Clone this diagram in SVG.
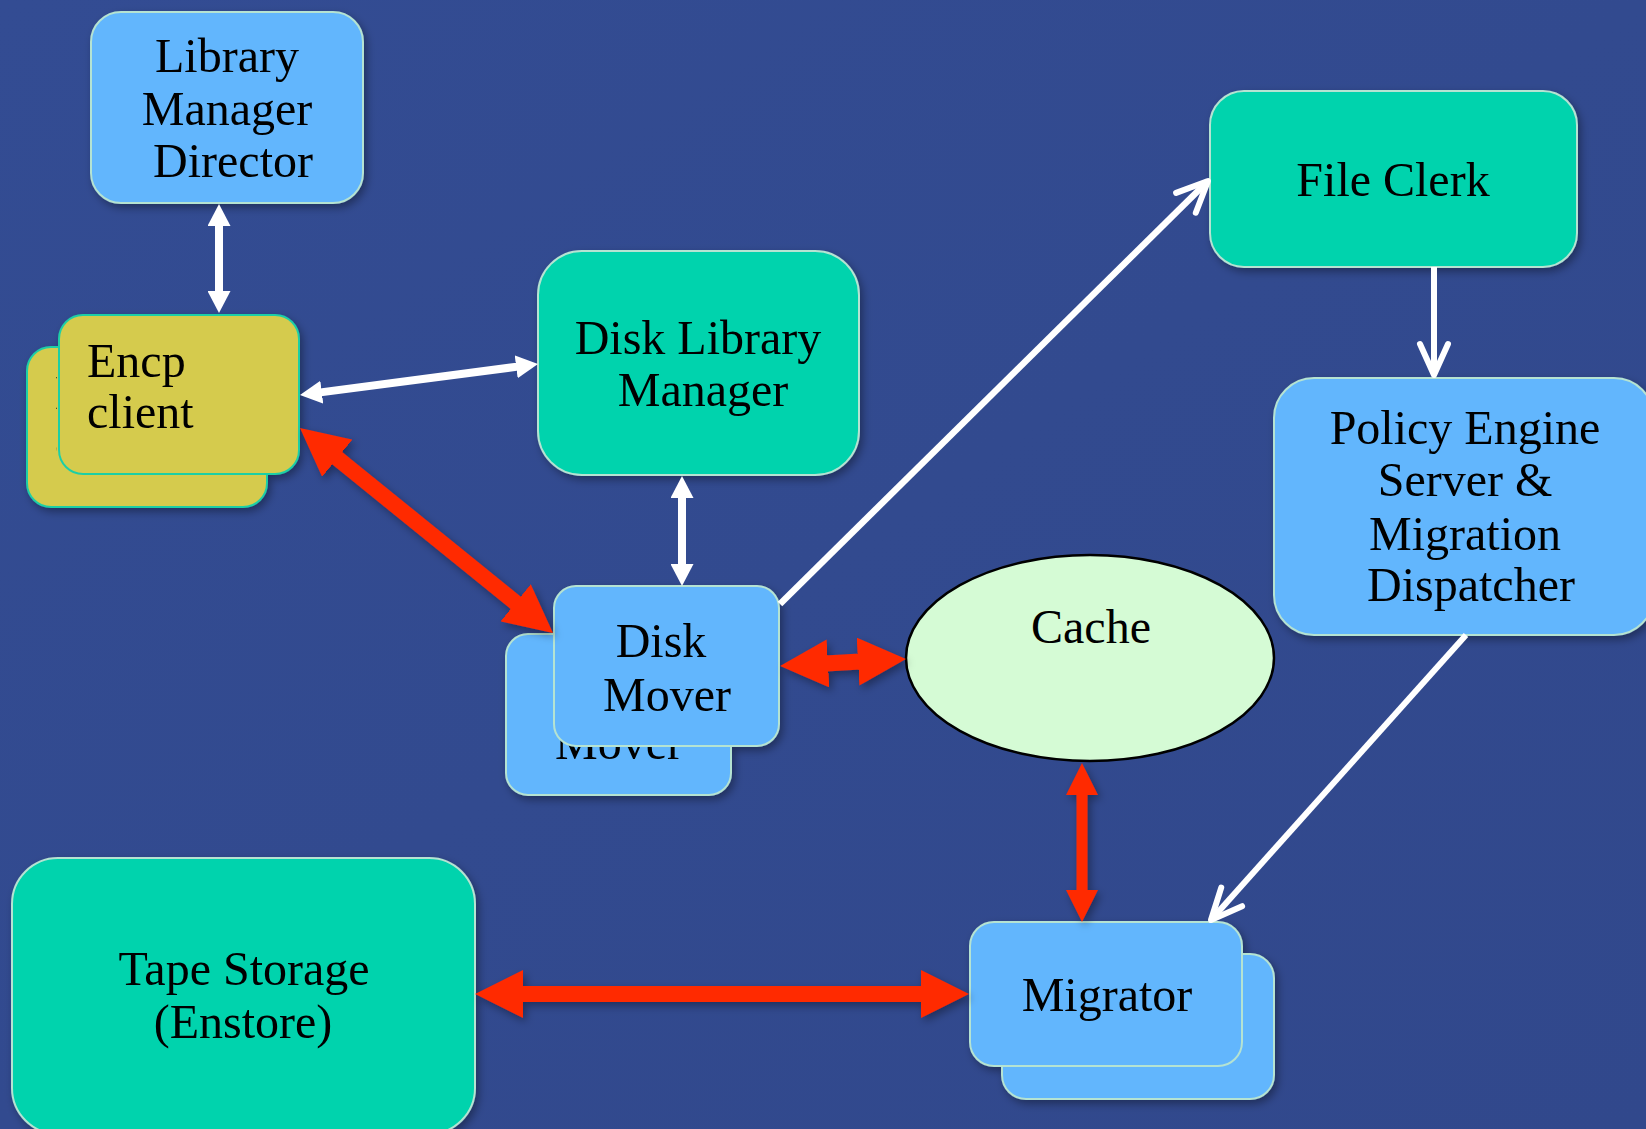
<svg xmlns="http://www.w3.org/2000/svg" width="1646" height="1129" viewBox="0 0 1646 1129">
  <style>
    .t { font-family: "Liberation Serif", "Times New Roman", serif; font-size: 48px; fill: #000; }
    .c { text-anchor: middle; }
    .blue { fill: #62B6FD; stroke: #B5E3D2; stroke-width: 2; }
    .teal { fill: #00D3AD; stroke: #B5E3D2; stroke-width: 2; }
    .yel { fill: #D5CB4E; stroke: #1FCFA6; stroke-width: 2; }
    .cache { fill: #D5FBD5; stroke: #000; stroke-width: 2.5; }
    .red { stroke: #FF2A00; fill: none; }
    .wht { stroke: #FFFFFF; fill: none; }
  </style>
  <defs>
    <linearGradient id="bg" x1="0" y1="0" x2="1" y2="1">
      <stop offset="0" stop-color="#334C93"/>
      <stop offset="0.5" stop-color="#324A8F"/>
      <stop offset="1" stop-color="#31488C"/>
    </linearGradient>
    <filter id="sh" x="-10%" y="-10%" width="130%" height="130%">
      <feDropShadow dx="3" dy="4" stdDeviation="4" flood-color="#000" flood-opacity="0.35"/>
    </filter>
    <clipPath id="encpBackClip">
      <path d="M0,340 H57 V480 H300 V520 H0 Z"/>
    </clipPath>
    <marker id="redBig" markerUnits="userSpaceOnUse" viewBox="0 0 48 48" markerWidth="48" markerHeight="48" refX="24" refY="24" orient="auto-start-reverse">
      <path d="M0,0 L48,24 L0,48 z" fill="#FF2A00"/>
    </marker>
    <marker id="redSmall" markerUnits="userSpaceOnUse" viewBox="0 0 32 32" markerWidth="32" markerHeight="32" refX="16" refY="16" orient="auto-start-reverse">
      <path d="M0,0 L32,16 L0,32 z" fill="#FF2A00"/>
    </marker>
    <marker id="whiteSolid" markerUnits="userSpaceOnUse" viewBox="0 0 22 23" markerWidth="22" markerHeight="23" refX="11" refY="11.5" orient="auto-start-reverse">
      <path d="M0,0 L22,11.5 L0,23 z" fill="#FFFFFF"/>
    </marker>
    <marker id="whiteOpen" markerUnits="userSpaceOnUse" viewBox="-36 -19 40 38" markerWidth="40" markerHeight="38" refX="0" refY="0" orient="auto">
      <path d="M-31,-14 L0,0 L-31,14" fill="none" stroke="#FFFFFF" stroke-width="6" stroke-linecap="round" stroke-linejoin="round"/>
    </marker>
  </defs>

  <rect x="0" y="0" width="1646" height="1129" fill="url(#bg)"/>

  <g id="node-lmd" filter="url(#sh)">
    <rect class="blue" x="91" y="12" width="272" height="191" rx="30"/>
    <text class="t c" x="227" y="72">Library</text>
    <text class="t c" x="227" y="125">Manager</text>
    <text class="t c" x="233" y="177">Director</text>
  </g>

  <g id="node-encp" filter="url(#sh)">
    <rect class="yel" x="27" y="347" width="240" height="160" rx="24"/>
    <g clip-path="url(#encpBackClip)">
      <text class="t" x="55" y="409">Encp</text>
      <text class="t" x="55" y="460">client</text>
    </g>
    <rect class="yel" x="59" y="315" width="240" height="159" rx="24"/>
    <text class="t" x="87" y="377">Encp</text>
    <text class="t" x="87" y="428">client</text>
  </g>

  <g id="node-dlm" filter="url(#sh)">
    <rect class="teal" x="538" y="251" width="321" height="224" rx="44"/>
    <text class="t c" x="698" y="354">Disk Library</text>
    <text class="t c" x="703" y="406">Manager</text>
  </g>

  <g id="node-diskmover" filter="url(#sh)">
    <rect class="blue" x="506" y="634" width="225" height="161" rx="22"/>
    <text class="t c" x="619" y="759">Mover</text>
    <rect class="blue" x="554" y="586" width="225" height="160" rx="22"/>
    <text class="t c" x="661" y="657">Disk</text>
    <text class="t c" x="667" y="711">Mover</text>
  </g>

  <g id="node-cache">
    <ellipse class="cache" cx="1090" cy="658" rx="184" ry="103"/>
    <text class="t c" x="1091" y="643">Cache</text>
  </g>

  <g id="node-fileclerk" filter="url(#sh)">
    <rect class="teal" x="1210" y="91" width="367" height="176" rx="34"/>
    <text class="t c" x="1393" y="196">File Clerk</text>
  </g>

  <g id="node-policy" filter="url(#sh)">
    <rect class="blue" x="1274" y="378" width="380" height="257" rx="40"/>
    <text class="t c" x="1465" y="444">Policy Engine</text>
    <text class="t c" x="1465" y="496">Server &amp;</text>
    <text class="t c" x="1465" y="550">Migration</text>
    <text class="t c" x="1471" y="601">Dispatcher</text>
  </g>

  <g id="node-migrator" filter="url(#sh)">
    <rect class="blue" x="1002" y="954" width="272" height="145" rx="24"/>
    <rect class="blue" x="970" y="922" width="272" height="144" rx="24"/>
    <text class="t c" x="1107" y="1011">Migrator</text>
  </g>

  <g id="node-tape" filter="url(#sh)">
    <rect class="teal" x="12" y="858" width="463" height="276" rx="46"/>
    <text class="t c" x="244" y="985">Tape Storage</text>
    <text class="t c" x="243" y="1038">(Enstore)</text>
  </g>

  <g id="connectors">
    <g filter="url(#sh)">
      <line class="red" x1="318.6" y1="443.1" x2="534.3" y2="617.9" stroke-width="16" marker-start="url(#redBig)" marker-end="url(#redBig)"/>
      <line class="red" x1="804" y1="664.7" x2="882" y2="660.3" stroke-width="16" marker-start="url(#redBig)" marker-end="url(#redBig)"/>
      <line class="red" x1="499" y1="994" x2="945" y2="994" stroke-width="16" marker-start="url(#redBig)" marker-end="url(#redBig)"/>
      <line class="red" x1="1082" y1="779" x2="1082" y2="906" stroke-width="11" marker-start="url(#redSmall)" marker-end="url(#redSmall)"/>
    </g>
    <line class="wht" x1="219" y1="215" x2="219" y2="302" stroke-width="8" marker-start="url(#whiteSolid)" marker-end="url(#whiteSolid)"/>
    <line class="wht" x1="682" y1="487" x2="682" y2="575" stroke-width="8" marker-start="url(#whiteSolid)" marker-end="url(#whiteSolid)"/>
    <line class="wht" x1="310.9" y1="393.6" x2="527.1" y2="365.4" stroke-width="8" marker-start="url(#whiteSolid)" marker-end="url(#whiteSolid)"/>
    <line class="wht" x1="780" y1="604" x2="1208" y2="181" stroke-width="6.5" marker-end="url(#whiteOpen)"/>
    <line class="wht" x1="1434" y1="267" x2="1434" y2="375" stroke-width="6" marker-end="url(#whiteOpen)"/>
    <line class="wht" x1="1466" y1="635" x2="1211" y2="920" stroke-width="6" marker-end="url(#whiteOpen)"/>
  </g>
</svg>
